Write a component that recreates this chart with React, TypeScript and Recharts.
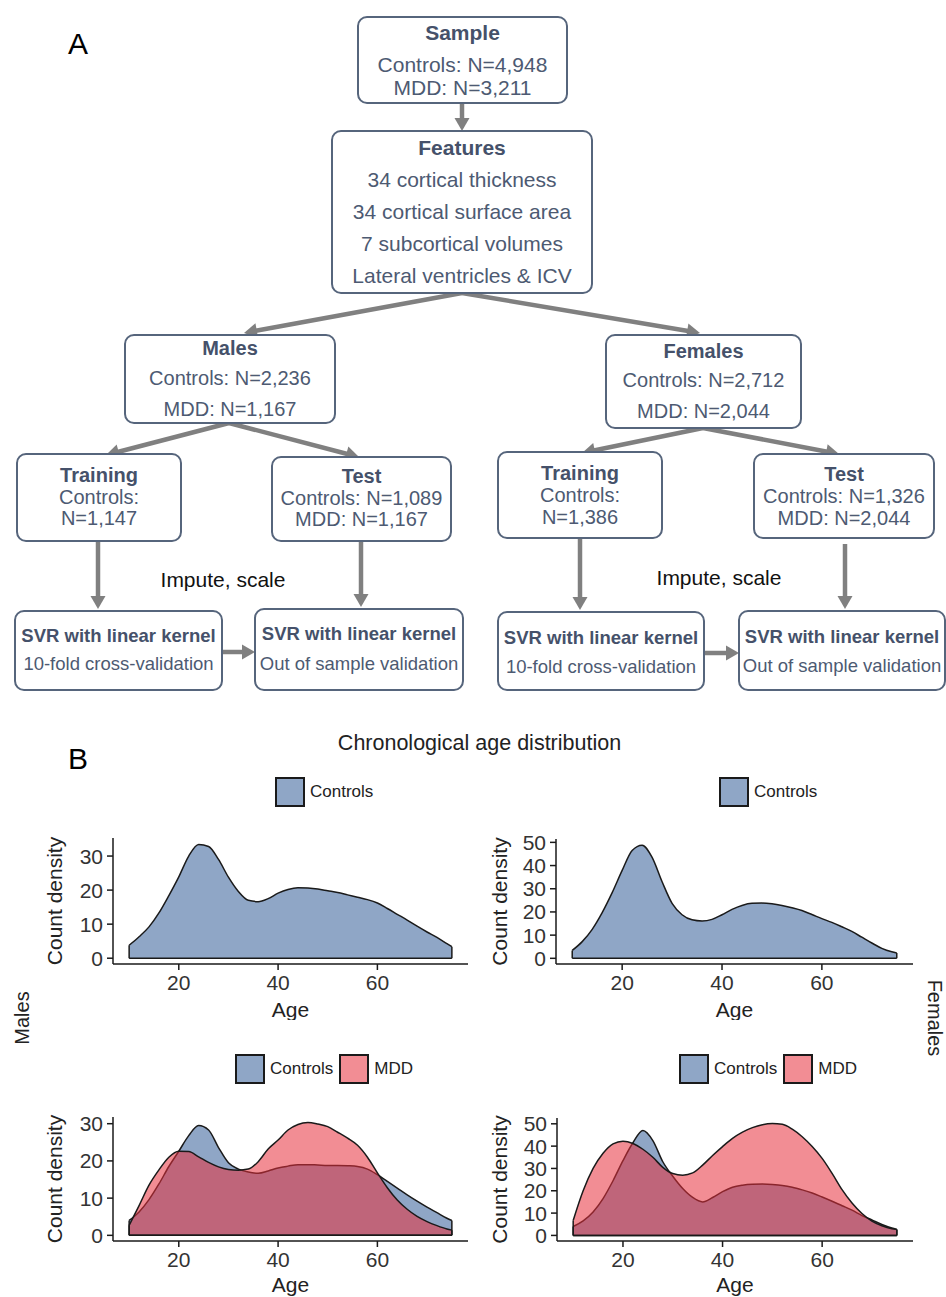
import React from "react";
import { AreaChart, Area, XAxis, YAxis, ReferenceLine } from "recharts";

const FONT = '"Liberation Sans", Arial, Helvetica, sans-serif';

// ---- data: age density curves ----
const ages = [10, 12, 14, 16, 18, 20, 22, 24, 26, 28, 30, 32, 34, 36, 38, 40, 42, 44, 46, 48, 50, 52, 54, 56, 58, 60, 62, 64, 66, 68, 70, 72, 74, 75];

const trainMaleControls = [3.8, 6.3, 9.2, 13.3, 18.4, 23.9, 30.0, 33.4, 32.8, 29.0, 23.8, 19.6, 17.0, 16.6, 17.5, 19.1, 20.2, 20.7, 20.6, 20.3, 19.8, 19.3, 18.6, 17.9, 17.2, 16.2, 14.6, 12.9, 11.2, 9.4, 7.7, 6.1, 4.3, 3.4];
const trainFemaleControls = [3.4, 7.2, 12.5, 19.7, 28.3, 37.9, 46.5, 48.8, 43.5, 33.0, 23.7, 18.8, 16.6, 16.1, 16.8, 18.8, 21.1, 22.8, 23.7, 23.8, 23.5, 22.8, 21.8, 20.6, 18.9, 17.1, 15.5, 13.6, 11.6, 9.1, 6.6, 4.3, 2.8, 2.3];

const testMaleControls = [4.0, 6.3, 9.6, 13.8, 18.5, 22.6, 26.8, 29.5, 28.3, 23.6, 19.5, 17.8, 17.0, 16.7, 17.3, 18.1, 18.6, 19.0, 19.0, 18.9, 18.8, 18.8, 18.7, 18.5, 17.8, 16.3, 14.5, 12.7, 10.9, 9.2, 7.6, 6.1, 4.6, 4.0];
const testMaleMdd = [2.7, 8.0, 13.5, 17.6, 21.0, 22.6, 22.5, 21.1, 19.6, 18.4, 17.7, 17.5, 17.8, 19.8, 23.2, 25.6, 28.3, 29.8, 30.3, 29.9, 29.2, 27.7, 26.1, 24.2, 21.0, 16.8, 12.8, 9.5, 7.0, 5.1, 3.7, 2.6, 1.7, 1.4];
const testFemaleControls = [4.0, 6.5, 10.5, 16.5, 24.5, 33.5, 41.5, 47.0, 42.5, 33.0, 26.5, 21.0, 17.0, 15.0, 17.0, 19.6, 21.6, 22.5, 22.9, 23.0, 22.8, 22.4, 21.6, 20.4, 19.0, 17.2, 15.3, 13.3, 11.3, 8.9, 6.9, 4.9, 3.3, 2.7];
const testFemaleMdd = [6.7, 20.0, 30.0, 36.8, 41.0, 42.2, 41.2, 38.6, 35.0, 30.5, 27.7, 27.0, 28.0, 31.5, 35.8, 39.8, 43.5, 46.3, 48.3, 49.6, 50.1, 49.8, 47.6, 44.2, 39.8, 34.5, 27.8, 20.5, 14.5, 9.8, 6.4, 4.3, 3.0, 2.7];

const xTicks = [20, 40, 60];
const yTicksMale = [0, 10, 20, 30];
const yTicksFemale = [0, 10, 20, 30, 40, 50];

const CONTROLS = { name: "Controls", fill: "#8FA6C6", opacity: 1 };
const MDD = { name: "MDD", fill: "#E8303C", opacity: 0.55 };

// ---- flowchart layout ----
const flowBoxes = [
  { x: 358, y: 17, w: 209, h: 86, title: "Sample", ty: 32, lines: ["Controls: N=4,948", "MDD: N=3,211"], ly: [64, 87], fs: 21 },
  { x: 332, y: 131, w: 260, h: 162, title: "Features", ty: 147, lines: ["34 cortical thickness", "34 cortical surface area", "7 subcortical volumes", "Lateral ventricles & ICV"], ly: [179, 211, 243, 275], fs: 21 },
  { x: 125, y: 335, w: 210, h: 88, title: "Males", ty: 348, lines: ["Controls: N=2,236", "MDD: N=1,167"], ly: [378, 409], fs: 20 },
  { x: 606, y: 335, w: 195, h: 93, title: "Females", ty: 351, lines: ["Controls: N=2,712", "MDD: N=2,044"], ly: [380, 411], fs: 20 },
  { x: 17, y: 454, w: 164, h: 87, title: "Training", ty: 475, lines: ["Controls:", "N=1,147"], ly: [497, 518], fs: 20 },
  { x: 272, y: 457, w: 179, h: 84, title: "Test", ty: 476, lines: ["Controls: N=1,089", "MDD: N=1,167"], ly: [498, 519], fs: 20 },
  { x: 498, y: 452, w: 164, h: 86, title: "Training", ty: 473, lines: ["Controls:", "N=1,386"], ly: [495, 517], fs: 20 },
  { x: 754, y: 454, w: 180, h: 84, title: "Test", ty: 474, lines: ["Controls: N=1,326", "MDD: N=2,044"], ly: [496, 518], fs: 20 },
  { x: 15, y: 611, w: 207, h: 79, title: "SVR with linear kernel", ty: 635, lines: ["10-fold cross-validation"], ly: [663], fs: 18.5 },
  { x: 255, y: 609, w: 208, h: 81, title: "SVR with linear kernel", ty: 633, lines: ["Out of sample validation"], ly: [663], fs: 18.5 },
  { x: 498, y: 612, w: 206, h: 78, title: "SVR with linear kernel", ty: 637, lines: ["10-fold cross-validation"], ly: [666], fs: 18.5 },
  { x: 739, y: 611, w: 206, h: 79, title: "SVR with linear kernel", ty: 636, lines: ["Out of sample validation"], ly: [665], fs: 18.5 },
];

const flowArrows = [
  [462, 103, 462, 131],
  [462, 293, 244, 333],
  [462, 293, 700, 333],
  [229, 423, 106, 455],
  [229, 423, 359, 457],
  [703, 428, 582, 453],
  [703, 428, 839, 454],
  [98, 541, 98, 609],
  [361, 541, 361, 607],
  [580, 538, 580, 610],
  [845, 544, 845, 609],
  [222, 652, 255, 652],
  [704, 653, 739, 653],
];

function Arrow({ a }: { a: number[] }) {
  const [x1, y1, x2, y2] = a;
  const len = Math.hypot(x2 - x1, y2 - y1);
  const ux = (x2 - x1) / len;
  const uy = (y2 - y1) / len;
  const hl = 13;
  const hw = 7.5;
  const bx = x2 - ux * hl;
  const by = y2 - uy * hl;
  return (
    <g>
      <line x1={x1} y1={y1} x2={bx + ux} y2={by + uy} stroke="#808080" strokeWidth={4.5} />
      <polygon
        points={`${x2},${y2} ${bx - uy * hw},${by + ux * hw} ${bx + uy * hw},${by - ux * hw}`}
        fill="#808080"
      />
    </g>
  );
}

function Flowchart() {
  return (
    <svg width={946} height={700} style={{ position: "absolute", left: 0, top: 0 }} fontFamily={FONT}>
      <text x={68} y={54} fontSize={30} fill="#000">A</text>
      {flowArrows.map((a, i) => (
        <Arrow key={i} a={a} />
      ))}
      {flowBoxes.map((b, i) => (
        <g key={i}>
          <rect x={b.x} y={b.y} width={b.w} height={b.h} rx={9} fill="#fff" stroke="#56657c" strokeWidth={2} />
          <text x={b.x + b.w / 2} y={b.ty} textAnchor="middle" dominantBaseline="central" fontSize={b.fs} fontWeight="bold" fill="#45516a">
            {b.title}
          </text>
          {b.lines.map((l, j) => (
            <text key={j} x={b.x + b.w / 2} y={b.ly[j]} textAnchor="middle" dominantBaseline="central" fontSize={b.fs} fill="#4d5a72">
              {l}
            </text>
          ))}
        </g>
      ))}
      <text x={223} y={579} textAnchor="middle" dominantBaseline="central" fontSize={21} fill="#111">Impute, scale</text>
      <text x={719} y={577} textAnchor="middle" dominantBaseline="central" fontSize={21} fill="#111">Impute, scale</text>
    </svg>
  );
}

// ---- density panels ----
type Series = { key: string; name: string; fill: string; opacity: number; values: number[] };
type Panel = {
  left: number;
  top: number;
  plotW: number;
  plotH: number;
  yDomain: number[];
  yTicks: number[];
  series: Series[];
  legendLeft: number;
  legendTop: number;
  ageOffset: number;
  labelGap: number;
};

const panels: Panel[] = [
  {
    left: 113, top: 838, plotW: 355, plotH: 126, yDomain: [-1.7, 35.3], yTicks: yTicksMale,
    series: [{ key: "controls", ...CONTROLS, values: trainMaleControls }],
    legendLeft: 275, legendTop: 777, ageOffset: 3, labelGap: 58,
  },
  {
    left: 556, top: 839, plotW: 357, plotH: 125, yDomain: [-2.45, 51.45], yTicks: yTicksFemale,
    series: [{ key: "controls", ...CONTROLS, values: trainFemaleControls }],
    legendLeft: 719, legendTop: 777, ageOffset: 3, labelGap: 56,
  },
  {
    left: 113, top: 1117, plotW: 355, plotH: 124, yDomain: [-1.52, 31.8], yTicks: yTicksMale,
    series: [
      { key: "controls", ...CONTROLS, values: testMaleControls },
      { key: "mdd", ...MDD, values: testMaleMdd },
    ],
    legendLeft: 235, legendTop: 1054, ageOffset: 5, labelGap: 58,
  },
  {
    left: 557, top: 1118, plotW: 356, plotH: 123, yDomain: [-2.5, 52.6], yTicks: yTicksFemale,
    series: [
      { key: "controls", ...CONTROLS, values: testFemaleControls },
      { key: "mdd", ...MDD, values: testFemaleMdd },
    ],
    legendLeft: 679, legendTop: 1054, ageOffset: 5, labelGap: 57,
  },
];

const Y_W = 80;
const X_H = 56;
const M_TOP = 14;
const M_RIGHT = 10;
const AXIS = "#1a1a1a";

function Legend({ p }: { p: Panel }) {
  return (
    <div style={{ position: "absolute", left: p.legendLeft, top: p.legendTop, display: "flex", alignItems: "center", fontFamily: FONT }}>
      {p.series.map((s) => (
        <div key={s.key} style={{ display: "flex", alignItems: "center", marginRight: 6 }}>
          <div style={{ width: 30, height: 30, boxSizing: "border-box", border: `2px solid ${AXIS}`, position: "relative", background: "#fff" }}>
            <div style={{ position: "absolute", inset: 0, background: s.fill, opacity: s.opacity }} />
          </div>
          <span style={{ marginLeft: 5, fontSize: 17, color: "#222" }}>{s.name}</span>
        </div>
      ))}
    </div>
  );
}

function DensityPanel({ p }: { p: Panel }) {
  const data = ages.map((age, i) => {
    const row: Record<string, number> = { age };
    p.series.forEach((s) => (row[s.key] = s.values[i]));
    return row;
  });
  const first = ages[0];
  const last = ages[ages.length - 1];
  return (
    <>
      <Legend p={p} />
      <div style={{ position: "absolute", left: p.left - Y_W, top: p.top - M_TOP }}>
        <AreaChart
          width={Y_W + p.plotW + M_RIGHT}
          height={M_TOP + p.plotH + X_H}
          data={data}
          margin={{ top: M_TOP, right: M_RIGHT, left: 0, bottom: 0 }}
        >
          <XAxis
            dataKey="age"
            type="number"
            domain={[6.75, 78.25]}
            ticks={xTicks}
            interval={0}
            allowDataOverflow
            height={X_H}
            tickSize={6}
            tickMargin={5}
            axisLine={{ stroke: AXIS, strokeWidth: 1.5 }}
            tickLine={{ stroke: AXIS, strokeWidth: 1.5 }}
            tick={{ fill: "#333", fontSize: 21, fontFamily: FONT }}
            label={{ value: "Age", position: "insideBottom", offset: p.ageOffset, fill: "#222", fontSize: 21, fontFamily: FONT }}
          />
          <YAxis
            type="number"
            domain={p.yDomain}
            ticks={p.yTicks}
            interval={0}
            allowDataOverflow
            width={Y_W}
            tickSize={6}
            tickMargin={4}
            axisLine={{ stroke: AXIS, strokeWidth: 1.5 }}
            tickLine={{ stroke: AXIS, strokeWidth: 1.5 }}
            tick={{ fill: "#333", fontSize: 21, fontFamily: FONT }}
            label={{ value: "Count density", angle: -90, position: "insideLeft", offset: Y_W - p.labelGap, textAnchor: "middle", fill: "#222", fontSize: 21, fontFamily: FONT }}
          />
          {p.series.map((s) => (
            <Area
              key={s.key}
              dataKey={s.key}
              type="monotone"
              fill={s.fill}
              fillOpacity={s.opacity}
              stroke={AXIS}
              strokeWidth={1.5}
              isAnimationActive={false}
              dot={false}
              activeDot={false}
            />
          ))}
          {p.series.map((s) => (
            <ReferenceLine key={s.key + "b"} segment={[{ x: first, y: 0 }, { x: last, y: 0 }]} stroke={AXIS} strokeWidth={1.5} />
          ))}
          {p.series.map((s) => (
            <ReferenceLine key={s.key + "l"} segment={[{ x: first, y: 0 }, { x: first, y: s.values[0] }]} stroke={AXIS} strokeWidth={1.5} />
          ))}
          {p.series.map((s) => (
            <ReferenceLine key={s.key + "r"} segment={[{ x: last, y: 0 }, { x: last, y: s.values[s.values.length - 1] }]} stroke={AXIS} strokeWidth={1.5} />
          ))}
        </AreaChart>
      </div>
    </>
  );
}

export default function App() {
  return (
    <div style={{ position: "absolute", left: 0, top: 0, width: 946, height: 1297, background: "#fff", overflow: "hidden", fontFamily: FONT }}>
      <Flowchart />
      <svg width={946} height={1297} style={{ position: "absolute", left: 0, top: 0 }} fontFamily={FONT}>
        <text x={68} y={769} fontSize={30} fill="#000">B</text>
        <text x={479.5} y={750} textAnchor="middle" fontSize={21.5} fill="#222">Chronological age distribution</text>
        <text x={22} y={1018} textAnchor="middle" dominantBaseline="central" fontSize={20} fill="#222" transform="rotate(-90 22 1018)">Males</text>
        <text x={935} y={1018} textAnchor="middle" dominantBaseline="central" fontSize={20} fill="#222" transform="rotate(90 935 1018)">Females</text>
      </svg>
      {panels.map((p, i) => (
        <DensityPanel key={i} p={p} />
      ))}
    </div>
  );
}
